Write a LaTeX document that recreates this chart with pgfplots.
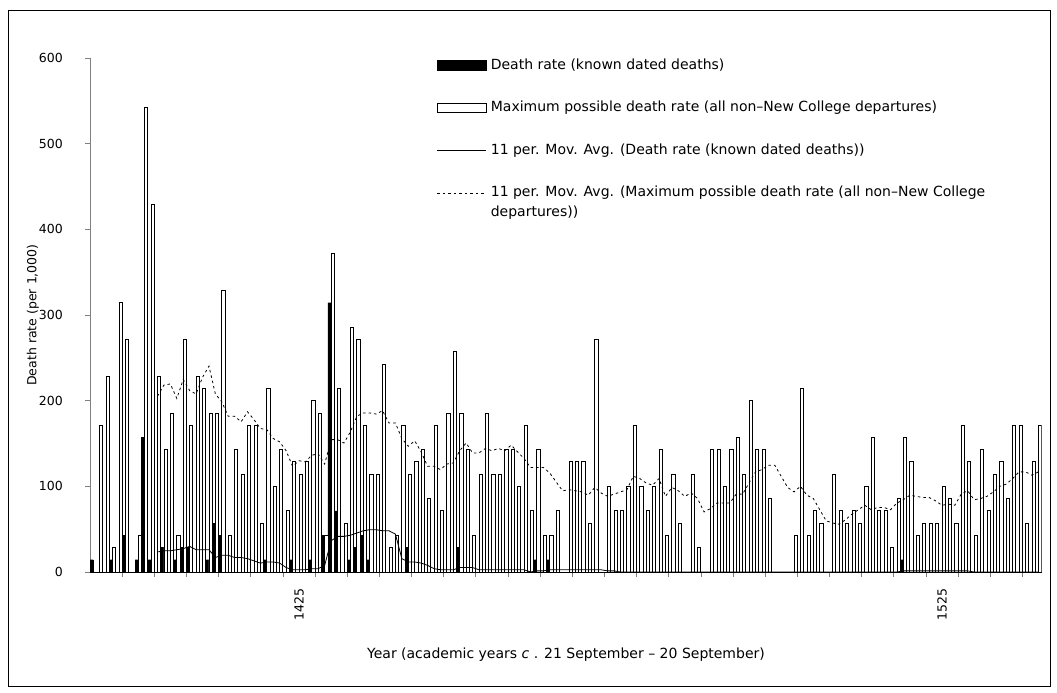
\documentclass[border=0pt]{standalone}
\usepackage{pgfplots}
\pgfplotsset{compat=1.18}
\usepackage{fontspec}
\setmainfont{DejaVu Sans}
\begin{document}
\begin{tikzpicture}[x=1pt,y=1pt]
\useasboundingbox (0,0) rectangle (1057,693);
\draw[black, line width=0.8pt] (8,7) rectangle (1050,683);
\begin{axis}[
  at={(90pt,121pt)}, anchor=south west,
  scale only axis, width=951.6pt, height=514pt,
  xmin=-0.5, xmax=147.5, ymin=0, ymax=600,
  axis x line*=bottom, axis y line*=left,
  x axis line style={black, line width=0.8pt},
  y axis line style={gray, line width=0.6pt},
  xtick={32,132}, xticklabels={1425,1525},
  minor xtick={4.5,9.5,...,144.5},
  ytick={0,100,...,600},
  minor ytick={0,100,...,600},
  major tick length=0pt, minor tick length=5pt,
  tick align=outside,
  tick style={gray, line width=0.6pt},
  /pgf/number format/assume math mode=true,
  ticklabel style={font=\fontsize{12.5}{14}\selectfont},
  yticklabel style={inner sep=0pt, xshift=-27pt},
  xticklabel style={inner sep=0pt, yshift=-16pt, rotate=90, anchor=east},
  ylabel={Death rate (per 1,000)},
  ylabel style={at={(axis description cs:-0.0599,0.5)}, anchor=center, font=\fontsize{12.5}{14}\selectfont},
  xlabel={Year (academic years \textit{c} . 21 September – 20 September)},
  xlabel style={at={(axis description cs:0.5002,-0.1615)}, anchor=center, font=\fontsize{14}{16}\selectfont},
  legend cell align=left,
  legend style={at={(axis description cs:0.3647,0.998)}, anchor=north west, draw=none, fill=none,
    inner sep=0pt, outer sep=0pt, row sep=29.5pt, column sep=4pt,
    font=\fontsize{14}{19.7}\selectfont,
    nodes={inner sep=0pt, text height=10pt, text depth=3pt, anchor=west}},
]
\addplot[ybar, bar width=0.5, bar shift=-0.25, fill=black, draw=black, line width=0.4pt,
  legend image code/.code={\fill[black] (0pt,-5pt) rectangle (49pt,5pt);}]
  coordinates {(0,14.3)(3,14.3)(5,42.9)(7,14.3)(8,157.1)(9,14.3)(11,28.6)(13,14.3)(14,28.6)(15,28.6)(18,14.3)(19,57.1)(20,42.9)(27,14.3)(31,14.3)(34,14.3)(36,42.9)(37,314.3)(38,71.4)(40,14.3)(41,28.6)(42,42.9)(43,14.3)(49,28.6)(57,28.6)(69,14.3)(71,14.3)(126,14.3)};
\addlegendentry{Death rate (known dated deaths)}
\addplot[ybar, bar width=0.5, bar shift=0.25, fill=white, draw=black, line width=0.8pt,
  legend image code/.code={\draw[black, fill=white, line width=0.8pt] (0pt,-4.5pt) rectangle (49pt,4.5pt);}]
  coordinates {(1,171.4)(2,228.6)(3,28.6)(4,314.3)(5,271.4)(7,42.9)(8,542.9)(9,428.6)(10,228.6)(11,142.9)(12,185.7)(13,42.9)(14,271.4)(15,171.4)(16,228.6)(17,214.3)(18,185.7)(19,185.7)(20,328.6)(21,42.9)(22,142.9)(23,114.3)(24,171.4)(25,171.4)(26,57.1)(27,214.3)(28,100.0)(29,142.9)(30,71.4)(31,128.6)(32,114.3)(33,128.6)(34,200.0)(35,185.7)(36,42.9)(37,371.4)(38,214.3)(39,57.1)(40,285.7)(41,271.4)(42,171.4)(43,114.3)(44,114.3)(45,242.9)(46,28.6)(47,42.9)(48,171.4)(49,114.3)(50,128.6)(51,142.9)(52,85.7)(53,171.4)(54,71.4)(55,185.7)(56,257.1)(57,185.7)(58,142.9)(59,42.9)(60,114.3)(61,185.7)(62,114.3)(63,114.3)(64,142.9)(65,142.9)(66,100.0)(67,171.4)(68,71.4)(69,142.9)(70,42.9)(71,42.9)(72,71.4)(74,128.6)(75,128.6)(76,128.6)(77,57.1)(78,271.4)(80,100.0)(81,71.4)(82,71.4)(83,100.0)(84,171.4)(85,100.0)(86,71.4)(87,100.0)(88,142.9)(89,42.9)(90,114.3)(91,57.1)(93,114.3)(94,28.6)(96,142.9)(97,142.9)(98,100.0)(99,142.9)(100,157.1)(101,114.3)(102,200.0)(103,142.9)(104,142.9)(105,85.7)(109,42.9)(110,214.3)(111,42.9)(112,71.4)(113,57.1)(115,114.3)(116,71.4)(117,57.1)(118,71.4)(119,57.1)(120,100.0)(121,157.1)(122,71.4)(123,71.4)(124,28.6)(125,85.7)(126,157.1)(127,128.6)(128,42.9)(129,57.1)(130,57.1)(131,57.1)(132,100.0)(133,85.7)(134,57.1)(135,171.4)(136,128.6)(137,42.9)(138,142.9)(139,71.4)(140,114.3)(141,128.6)(142,85.7)(143,171.4)(144,171.4)(145,57.1)(146,128.6)(147,171.4)};
\addlegendentry{Maximum possible death rate (all non–New College departures)}
\addplot[black, line width=0.8pt, mark=none,
  legend image code/.code={\draw[black, line width=0.8pt] (0pt,0pt) -- (49pt,0pt);}]
  coordinates {(10,23.4)(11,24.7)(12,24.7)(13,26.0)(14,27.3)(15,29.9)(16,26.0)(17,26.0)(18,26.0)(19,16.9)(20,19.5)(21,19.5)(22,16.9)(23,16.9)(24,15.6)(25,13.0)(26,10.4)(27,11.7)(28,11.7)(29,10.4)(30,5.2)(31,2.6)(32,2.6)(33,2.6)(34,3.9)(35,3.9)(36,7.8)(37,36.4)(38,41.6)(39,41.6)(40,42.9)(41,45.5)(42,48.1)(43,49.4)(44,49.4)(45,48.1)(46,48.1)(47,44.2)(48,15.6)(49,11.7)(50,11.7)(51,10.4)(52,7.8)(53,3.9)(54,2.6)(55,2.6)(56,2.6)(57,5.2)(58,5.2)(59,5.2)(60,2.6)(61,2.6)(62,2.6)(63,2.6)(64,2.6)(65,2.6)(66,2.6)(67,2.6)(68,0)(69,1.3)(70,1.3)(71,2.6)(72,2.6)(73,2.6)(74,2.6)(75,2.6)(76,2.6)(77,2.6)(78,2.6)(79,2.6)(80,1.3)(81,1.3)(82,0)(125,0)(126,1.3)(136,1.3)(137,0)(147,0)};
\addlegendentry{11 per. Mov. Avg. (Death rate (known dated deaths))}
\addplot[black, line width=0.8pt, mark=none, dash pattern=on 2.5pt off 3pt,
  legend image code/.code={\draw[black, line width=0.8pt, dash pattern=on 2.5pt off 3pt] (0pt,0pt) -- (49pt,0pt);}]
  coordinates {(10,205.2)(11,218.2)(12,219.5)(13,202.6)(14,224.7)(15,211.7)(16,207.8)(17,227.3)(18,240.3)(19,207.8)(20,198.7)(21,181.8)(22,181.8)(23,175.3)(24,187.0)(25,177.9)(26,167.5)(27,166.2)(28,155.8)(29,151.9)(30,141.6)(31,123.4)(32,129.9)(33,128.6)(34,136.4)(35,137.7)(36,126.0)(37,154.5)(38,154.5)(39,150.6)(40,163.6)(41,181.8)(42,185.7)(43,185.7)(44,184.4)(45,188.3)(46,174.0)(47,174.0)(48,155.8)(49,146.8)(50,153.2)(51,140.3)(52,123.4)(53,123.4)(54,119.5)(55,126.0)(56,127.3)(57,141.6)(58,150.6)(59,139.0)(60,139.0)(61,144.2)(62,141.6)(63,144.2)(64,141.6)(65,148.1)(66,140.3)(67,132.5)(68,122.1)(69,122.1)(70,122.1)(71,115.6)(72,105.2)(73,94.8)(74,96.1)(75,94.8)(76,93.5)(77,89.6)(78,98.7)(79,92.2)(80,88.3)(81,90.9)(82,93.5)(83,96.1)(84,111.7)(85,109.1)(86,103.9)(87,101.3)(88,109.1)(89,88.3)(90,98.7)(91,94.8)(92,88.3)(93,92.2)(94,85.7)(95,70.1)(96,74.0)(97,80.5)(98,80.5)(99,80.5)(100,90.9)(101,90.9)(102,103.9)(103,116.9)(104,119.5)(105,124.7)(106,124.7)(107,111.7)(108,98.7)(109,93.5)(110,100.0)(111,89.6)(112,85.7)(113,72.7)(114,59.7)(115,57.1)(116,55.8)(117,61.0)(118,67.5)(119,72.7)(120,77.9)(121,72.7)(122,75.3)(123,75.3)(124,72.7)(125,80.5)(126,84.4)(127,89.6)(128,88.3)(129,87.0)(130,87.0)(131,83.1)(132,77.9)(133,79.2)(134,77.9)(135,90.9)(136,94.8)(137,84.4)(138,85.7)(139,88.3)(140,93.5)(141,100.0)(142,102.6)(143,109.1)(144,116.9)(145,116.9)(146,113.0)(147,116.9)};
\addlegendentry{\begin{tabular}[t]{@{}l@{}}11 per. Mov. Avg. (Maximum possible death rate (all non–New College\\departures))\end{tabular}}
\end{axis}
\end{tikzpicture}
\end{document}
